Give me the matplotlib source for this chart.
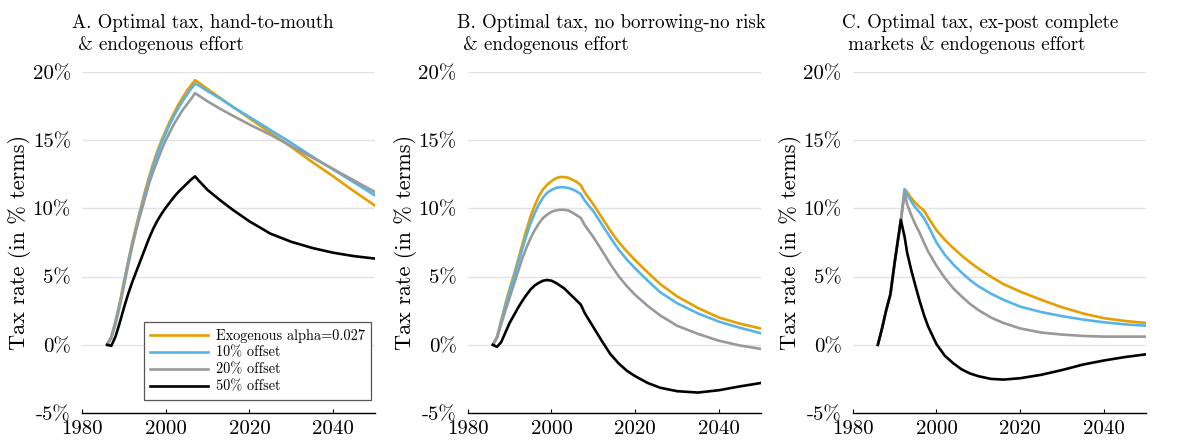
import matplotlib
matplotlib.use("Agg")
import matplotlib.pyplot as plt

plt.rcParams['font.family'] = ['cmr10', 'DejaVu Serif']
plt.rcParams['axes.unicode_minus'] = False
plt.rcParams['axes.formatter.use_mathtext'] = True

# series names / colours
labels = ["Exogenous alpha=0.027", "10% offset", "20% offset", "50% offset"]
colors = ["#E69F00", "#56B4E9", "#999999", "#000000"]

titles = ["A. Optimal tax, hand-to-mouth\n & endogenous effort",
          "B. Optimal tax, no borrowing-no risk\n & endogenous effort",
          "C. Optimal tax, ex-post complete\n markets & endogenous effort"]

y_ticks = [-5, 0, 5, 10, 15, 20]
y_ticklabels = ["-5%", "0%", "5%", "10%", "15%", "20%"]
x_ticks = [1980, 2000, 2020, 2040]

# panel A: hand-to-mouth
years_a = [1986, 1987, 1988, 1989, 1990, 1991, 1992, 1993, 1994, 1995, 1996,
           1997, 1998, 1999, 2000, 2001, 2002, 2003, 2004, 2005, 2006, 2007,
           2008, 2010, 2013, 2016, 2020, 2025, 2030, 2035, 2040, 2045, 2050]
exo_a = [0, 0.6, 1.75, 3.05, 4.6, 6.1, 7.5, 8.8, 10.0, 11.2, 12.3,
         13.3, 14.2, 15.0, 15.7, 16.4, 17.0, 17.6, 18.1, 18.6, 19.0, 19.4,
         19.2, 18.75, 18.1, 17.45, 16.6, 15.55, 14.5, 13.4, 12.35, 11.25, 10.2]
off10_a = [0, 0.55, 1.65, 2.95, 4.5, 6.0, 7.4, 8.6, 9.85, 11.0, 12.1,
           13.1, 14.0, 14.8, 15.5, 16.2, 16.8, 17.35, 17.85, 18.3, 18.75, 19.15,
           19.0, 18.6, 18.05, 17.45, 16.7, 15.75, 14.8, 13.8, 12.85, 11.9, 10.95]
off20_a = [0, 0.5, 1.5, 2.8, 4.3, 5.8, 7.2, 8.5, 9.6, 10.7, 11.8,
           12.7, 13.5, 14.3, 15.0, 15.6, 16.2, 16.7, 17.2, 17.6, 18.0, 18.45,
           18.25, 17.85, 17.3, 16.8, 16.15, 15.4, 14.57, 13.73, 12.89, 12.04, 11.2]
off50_a = [0, -0.08, 0.6, 1.6, 2.7, 3.7, 4.6, 5.4, 6.2, 7.0, 7.8,
           8.5, 9.1, 9.6, 10.05, 10.45, 10.85, 11.2, 11.5, 11.8, 12.1, 12.35,
           12.0, 11.35, 10.6, 9.9, 9.05, 8.15, 7.55, 7.1, 6.75, 6.5, 6.32]

# panel B: no borrowing-no risk
years_b = [1986, 1987, 1988, 1989, 1990, 1991, 1992, 1993, 1994, 1995, 1996,
           1997, 1998, 1999, 2000, 2001, 2002, 2003, 2004, 2005, 2006, 2007,
           2008, 2010, 2012, 2014, 2016, 2018, 2020, 2023, 2026, 2030, 2035,
           2040, 2045, 2050]
exo_b = [0, 0.6, 1.8, 3.0, 4.1, 5.1, 6.2, 7.3, 8.4, 9.4, 10.2,
         10.9, 11.4, 11.75, 12.0, 12.2, 12.3, 12.3, 12.25, 12.1, 11.95, 11.7,
         11.15, 10.3, 9.35, 8.4, 7.55, 6.85, 6.2, 5.3, 4.45, 3.55, 2.7,
         2.0, 1.55, 1.2]
off10_b = [0, 0.55, 1.7, 2.85, 3.9, 4.9, 5.95, 7.0, 8.0, 8.9, 9.65,
           10.3, 10.8, 11.15, 11.35, 11.5, 11.55, 11.55, 11.5, 11.4, 11.25, 11.05,
           10.55, 9.8, 8.85, 7.9, 7.0, 6.25, 5.6, 4.7, 3.85, 3.05, 2.3,
           1.7, 1.25, 0.85]
off20_b = [0, 0.5, 1.5, 2.5, 3.45, 4.4, 5.35, 6.3, 7.1, 7.8, 8.4,
           8.9, 9.3, 9.55, 9.75, 9.85, 9.9, 9.9, 9.85, 9.7, 9.5, 9.3,
           8.75, 7.9, 6.95, 5.95, 5.05, 4.3, 3.66, 2.85, 2.15, 1.4, 0.8,
           0.3, -0.05, -0.3]
off50_b = [0, -0.15, 0.2, 0.9, 1.6, 2.15, 2.7, 3.2, 3.65, 4.05, 4.35,
           4.55, 4.7, 4.75, 4.7, 4.55, 4.35, 4.15, 3.85, 3.55, 3.25, 2.95,
           2.3, 1.3, 0.3, -0.65, -1.35, -1.9, -2.3, -2.8, -3.15, -3.4, -3.5,
           -3.33, -3.05, -2.8]

# panel C: ex-post complete markets
years_c = [1986, 1987, 1988, 1989, 1990, 1991, 1991.5, 1992.4, 1993, 1994, 1995,
           1996, 1997, 1998, 2000, 2002, 2004, 2006, 2008, 2010, 2013, 2016,
           2020, 2025, 2030, 2035, 2040, 2045, 2050]
exo_c = [0, 1.2, 2.55, 3.7, 6.0, 8.1, 9.15, 11.4, 11.2, 10.75, 10.4,
         10.1, 9.85, 9.35, 8.4, 7.7, 7.1, 6.55, 6.05, 5.6, 5.0, 4.45,
         3.9, 3.3, 2.75, 2.3, 1.95, 1.75, 1.6]
off10_c = [0, 1.2, 2.55, 3.7, 6.0, 8.1, 9.15, 11.4, 11.0, 10.5, 10.05,
           9.7, 9.3, 8.75, 7.5, 6.6, 5.9, 5.3, 4.75, 4.3, 3.75, 3.3,
           2.8, 2.4, 2.1, 1.85, 1.65, 1.5, 1.4]
off20_c = [0, 1.2, 2.55, 3.7, 6.0, 8.1, 9.15, 11.1, 10.3, 9.5, 8.8,
           8.2, 7.5, 6.85, 5.8, 4.9, 4.15, 3.55, 3.0, 2.55, 2.0, 1.6,
           1.2, 0.9, 0.75, 0.65, 0.6, 0.6, 0.6]
off50_c = [0, 1.2, 2.55, 3.7, 6.0, 8.1, 9.15, 7.9, 6.75, 5.45, 4.3,
           3.2, 2.2, 1.35, 0.05, -0.8, -1.35, -1.8, -2.1, -2.3, -2.5, -2.55,
           -2.45, -2.2, -1.85, -1.45, -1.15, -0.9, -0.7]

panels = [
    (years_a, [exo_a, off10_a, off20_a, off50_a]),
    (years_b, [exo_b, off10_b, off20_b, off50_b]),
    (years_c, [exo_c, off10_c, off20_c, off50_c]),
]

fig = plt.figure(figsize=(11.85, 4.42), dpi=100)
lefts = [0.0692, 0.3947, 0.7196]

for i, (years, series) in enumerate(panels):
    ax = fig.add_axes([lefts[i], 0.0656, 0.2473, 0.7715])
    for vals, lab, col in zip(series, labels, colors):
        ax.plot(years, vals, color=col, lw=1.9, label=lab)

    ax.set_xlim(1980, 2050)
    ax.set_ylim(-5, 20)
    ax.set_xticks(x_ticks)
    ax.set_xticklabels([str(t) for t in x_ticks])
    ax.set_yticks(y_ticks)
    ax.set_yticklabels(y_ticklabels)
    ax.yaxis.grid(True, color="#e3e3e3", lw=1.0)
    ax.set_axisbelow(True)
    for s in ["top", "right", "left"]:
        ax.spines[s].set_visible(False)
    ax.spines["bottom"].set_linewidth(1.0)
    ax.tick_params(axis="y", length=0, labelsize=15, pad=8)
    ax.tick_params(axis="x", direction="in", length=3, width=0.8, labelsize=15, pad=5)
    ax.set_ylabel("Tax rate (in % terms)", fontsize=16, labelpad=1)

    ax.text(-0.035, 1.053, titles[i], transform=ax.transAxes, ha="left", va="bottom",
            fontsize=13.6, linespacing=1.25)

    if i == 0:
        leg = ax.legend(loc="lower right", bbox_to_anchor=(0.986, 0.038), borderaxespad=0,
                        fontsize=10.3, handlelength=4.05, handletextpad=0.5,
                        fancybox=False, framealpha=1, edgecolor="#555555",
                        borderpad=0.45, labelspacing=0.23)
        leg.get_frame().set_linewidth(0.9)

fig.savefig("out.png", dpi=100)
